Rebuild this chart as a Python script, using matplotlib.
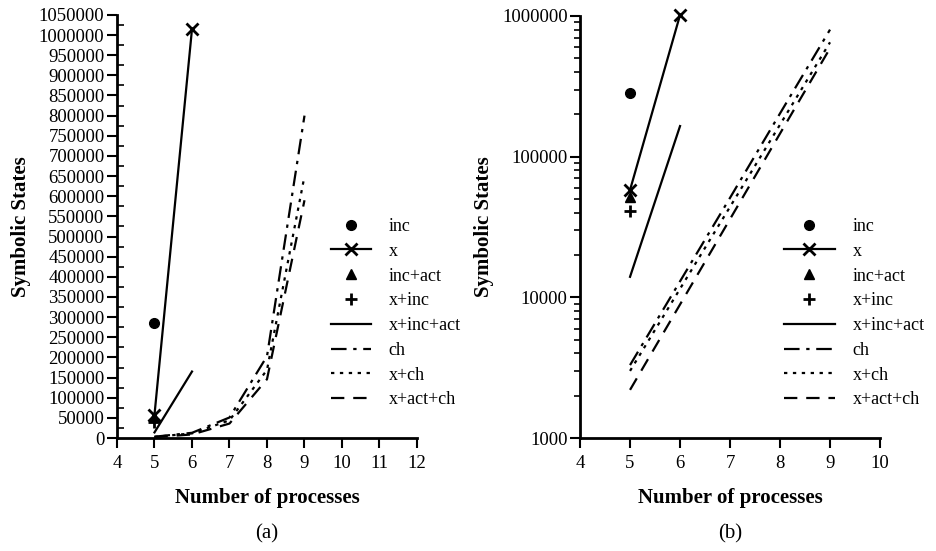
import matplotlib.pyplot as plt
from matplotlib.lines import Line2D
from matplotlib.ticker import MultipleLocator, FixedLocator, LogLocator, NullFormatter

plt.rcParams["font.family"] = ["Liberation Serif", "DejaVu Serif"]

# Data
procs = [5, 6, 7, 8, 9]
inc_x, inc_y = [5], [285000]
x_x, x_y = [5, 6], [58000, 1015000]
incact_x, incact_y = [5], [52000]
xinc_x, xinc_y = [5], [41000]
xincact_x, xincact_y = [5, 6], [14000, 165000]
ch_y = [3300, 13000, 51000, 203000, 800000]
xch_y = [3000, 11500, 44000, 169000, 650000]
xactch_y = [2200, 8900, 36000, 146000, 590000]

labels = ["inc", "x", "inc+act", "x+inc", "x+inc+act", "ch", "x+ch", "x+act+ch"]

fig = plt.figure(figsize=(9.36, 5.51), dpi=100)
ax1 = fig.add_axes([0.125, 0.205, 0.3205, 0.768])
ax2 = fig.add_axes([0.6197, 0.205, 0.3205, 0.766])

for ax in (ax1, ax2):
    ax.plot(inc_x, inc_y, "o", color="black", ms=7, clip_on=False)
    ax.plot(x_x, x_y, "-", marker="x", color="black", lw=1.6, ms=8, mew=2, clip_on=False)
    ax.plot(incact_x, incact_y, "^", color="black", ms=7, clip_on=False)
    ax.plot(xinc_x, xinc_y, "+", color="black", ms=8, mew=2, clip_on=False)
    ax.plot(xincact_x, xincact_y, "-", color="black", lw=1.6)
    ax.plot(procs, ch_y, color="black", lw=1.6, dashes=(7, 3, 1.5, 3))
    ax.plot(procs, xch_y, color="black", lw=1.6, dashes=(1.5, 2.5))
    ax.plot(procs, xactch_y, color="black", lw=1.6, dashes=(6, 4))

    for side in ("top", "right"):
        ax.spines[side].set_visible(False)
    for side in ("left", "bottom"):
        ax.spines[side].set_linewidth(2)
    ax.tick_params(axis="both", which="major", direction="out", length=7, width=1.5,
                   labelsize=13.5, pad=2)
    ax.tick_params(axis="x", which="major", pad=5)
    ax.set_xlabel("Number of processes", fontsize=15, fontweight="bold", labelpad=12)
    ax.set_ylabel("Symbolic States", fontsize=15, fontweight="bold", labelpad=6)

    handles = [
        Line2D([], [], ls="none", marker="o", color="black", ms=7),
        Line2D([], [], ls="-", marker="x", color="black", lw=1.6, ms=8, mew=2),
        Line2D([], [], ls="none", marker="^", color="black", ms=7),
        Line2D([], [], ls="none", marker="+", color="black", ms=8, mew=2),
        Line2D([], [], ls="-", color="black", lw=1.6),
        Line2D([], [], color="black", lw=1.6, dashes=(7, 3, 1.5, 3)),
        Line2D([], [], color="black", lw=1.6, dashes=(1.5, 2.5)),
        Line2D([], [], color="black", lw=1.6, dashes=(6, 4)),
    ]
    left = ax is ax1
    ax.legend(handles, labels, frameon=False, fontsize=13,
              handlelength=2.2 if left else 2.8,
              handletextpad=1.0,
              labelspacing=0.43, borderpad=0,
              loc="upper left",
              bbox_to_anchor=(0.344 if left else 0.828, 1 - 209 / 551),
              bbox_transform=fig.transFigure)

# (a) linear scale
ax1.set_xlim(4, 12)
ax1.set_ylim(0, 1050000)
ax1.xaxis.set_major_locator(MultipleLocator(1))
ax1.yaxis.set_major_locator(MultipleLocator(50000))
ax1.yaxis.set_minor_locator(MultipleLocator(25000))
ax1.tick_params(axis="y", which="minor", direction="in", length=5, width=1.2)
ax1.set_yticklabels([f"{int(v)}" for v in ax1.get_yticks()])

# (b) log scale
ax2.set_yscale("log")
ax2.set_xlim(4, 10)
ax2.set_ylim(1000, 1000000)
ax2.xaxis.set_major_locator(MultipleLocator(1))
ax2.yaxis.set_major_locator(FixedLocator([1000, 10000, 100000, 1000000]))
ax2.yaxis.set_minor_locator(LogLocator(base=10, subs=range(2, 10)))
ax2.yaxis.set_minor_formatter(NullFormatter())
ax2.set_yticklabels(["1000", "10000", "100000", "1000000"])
ax2.tick_params(axis="y", which="minor", direction="out", length=4, width=1.2)

fig.text(267 / 936, 1 - 534 / 551, "(a)", ha="center", va="center", fontsize=15)
fig.text(730 / 936, 1 - 534 / 551, "(b)", ha="center", va="center", fontsize=15)

fig.savefig("out.png", dpi=100)
